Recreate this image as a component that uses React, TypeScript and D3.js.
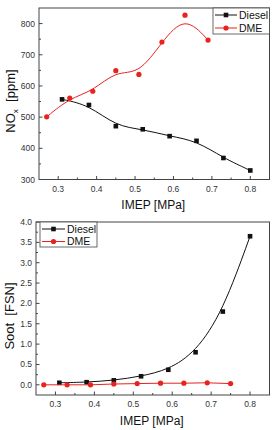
import React from 'react';
import * as d3 from 'd3';

const noxDieselX = [0.31, 0.38, 0.45, 0.52, 0.59, 0.66, 0.73, 0.8];
const noxDieselY = [557, 539, 471, 461, 439, 424, 369, 329];
const noxDmeX = [0.27, 0.33, 0.39, 0.45, 0.51, 0.57, 0.63, 0.69];
const noxDmeY = [501, 561, 583, 649, 637, 741, 827, 747];

const sootDieselX = [0.31, 0.38, 0.45, 0.52, 0.59, 0.66, 0.73, 0.8];
const sootDieselY = [0.05, 0.065, 0.11, 0.21, 0.37, 0.8, 1.8, 3.65];
const sootDmeX = [0.27, 0.33, 0.39, 0.45, 0.51, 0.57, 0.63, 0.69, 0.75];
const sootDmeY = [0.0, 0.0, 0.0, 0.02, 0.03, 0.04, 0.04, 0.05, 0.03];

const xTicks = [0.3, 0.4, 0.5, 0.6, 0.7, 0.8];
const xMinor = [0.25, 0.35, 0.45, 0.55, 0.65, 0.75, 0.85];
const noxTicks = [300, 400, 500, 600, 700, 800];
const noxMinor = [350, 450, 550, 650, 750, 850];
const sootTicks = [0, 0.5, 1.0, 1.5, 2.0, 2.5, 3.0, 3.5, 4.0];
const sootMinor = [-0.25, 0.25, 0.75, 1.25, 1.75, 2.25, 2.75, 3.25, 3.75];

const seriesNames = ['Diesel', 'DME'];
const RED = '#e8231f';
const BLACK = '#111';
const FRAME = '#444';
const FONT = 'Liberation Sans, Arial, Helvetica, sans-serif';

type Series = { xs: number[]; ys: number[]; color: string; marker: 'square' | 'circle'; curve: d3.CurveFactory };

type PanelProps = {
  left: number; right: number; top: number; bottom: number;
  xDomain: [number, number]; yDomain: [number, number];
  yTicks: number[]; yMinor: number[]; yFmt: (v: number) => string;
  series: Series[];
  legend: { x0: number; y0: number; x1: number; y1: number; lineX0: number; lineX1: number; rowY: number[] };
  yLabel: React.ReactNode; yLabelX: number; yLabelY: number;
  xLabelY: number; tickLabelY: number;
};

function Marker({ x, y, type, color }: { x: number; y: number; type: string; color: string }) {
  if (type === 'square') return <rect x={x - 2.3} y={y - 2.3} width={4.6} height={4.6} fill={color} />;
  return <circle cx={x} cy={y} r={2.6} fill={color} />;
}

function Panel(p: PanelProps) {
  const x = d3.scaleLinear().domain(p.xDomain).range([p.left, p.right]);
  const y = d3.scaleLinear().domain(p.yDomain).range([p.bottom, p.top]);
  return (
    <g>
      {p.series.map((s, i) => {
        const pts: [number, number][] = s.xs.map((v, j) => [v, s.ys[j]]);
        const line = d3.line<[number, number]>().x(d => x(d[0])).y(d => y(d[1])).curve(s.curve);
        return (
          <g key={i}>
            <path d={line(pts) || ''} fill="none" stroke={s.color} strokeWidth={1} />
            {pts.map((d, j) => <Marker key={j} x={x(d[0])} y={y(d[1])} type={s.marker} color={s.color} />)}
          </g>
        );
      })}
      <rect x={p.left} y={p.top} width={p.right - p.left} height={p.bottom - p.top} fill="none" stroke={FRAME} strokeWidth={1} />
      {xTicks.map((t, i) => (
        <g key={'xt' + i}>
          <line x1={x(t)} x2={x(t)} y1={p.bottom} y2={p.bottom - 3.5} stroke={FRAME} />
          <text x={x(t)} y={p.tickLabelY} textAnchor="middle" fontSize={8.5} fill="#333" fontFamily={FONT}>{t.toFixed(1)}</text>
        </g>
      ))}
      {xMinor.filter(t => x(t) > p.left + 1 && x(t) < p.right - 1).map((t, i) => (
        <line key={'xm' + i} x1={x(t)} x2={x(t)} y1={p.bottom} y2={p.bottom - 2} stroke={FRAME} />
      ))}
      {p.yTicks.map((t, i) => (
        <g key={'yt' + i}>
          <line x1={p.left} x2={p.left + 3.5} y1={y(t)} y2={y(t)} stroke={FRAME} />
          <text x={p.left - 4} y={y(t) + 3} textAnchor="end" fontSize={8.5} fill="#333" fontFamily={FONT}>{p.yFmt(t)}</text>
        </g>
      ))}
      {p.yMinor.filter(t => y(t) > p.top + 1 && y(t) < p.bottom - 1).map((t, i) => (
        <line key={'ym' + i} x1={p.left} x2={p.left + 2} y1={y(t)} y2={y(t)} stroke={FRAME} />
      ))}
      <rect x={p.legend.x0} y={p.legend.y0} width={p.legend.x1 - p.legend.x0} height={p.legend.y1 - p.legend.y0} fill="#fff" stroke={FRAME} strokeWidth={0.8} />
      {p.series.map((s, i) => {
        const ry = p.legend.rowY[i];
        const mx = (p.legend.lineX0 + p.legend.lineX1) / 2;
        return (
          <g key={'lg' + i}>
            <line x1={p.legend.lineX0} x2={p.legend.lineX1} y1={ry} y2={ry} stroke={s.color} strokeWidth={1} />
            <Marker x={mx} y={ry} type={s.marker} color={s.color} />
            <text x={p.legend.lineX1 + 2} y={ry + 3.7} fontSize={10.5} fill="#111" fontFamily={FONT}>{seriesNames[i]}</text>
          </g>
        );
      })}
      <text x={(p.left + p.right) / 2 - 1} y={p.xLabelY} textAnchor="middle" fontSize={12} fill="#111" fontFamily={FONT}>IMEP [MPa]</text>
      <text transform={`translate(${p.yLabelX},${p.yLabelY}) rotate(-90)`} textAnchor="middle" fontSize={13} fill="#111" fontFamily={FONT}>{p.yLabel}</text>
    </g>
  );
}

export default function App() {
  return (
    <svg width={275} height={430} style={{ position: 'absolute', left: 0, top: 0, background: '#fff' }}>
      <rect x={0} y={0} width={275} height={430} fill="#fff" />
      <Panel
        left={39} right={269.5} top={8} bottom={179.5}
        xDomain={[0.25, 0.85]} yDomain={[300, 850]}
        yTicks={noxTicks} yMinor={noxMinor} yFmt={v => String(v)}
        series={[
          { xs: noxDieselX, ys: noxDieselY, color: BLACK, marker: 'square', curve: d3.curveBasis },
          { xs: noxDmeX, ys: noxDmeY, color: RED, marker: 'circle', curve: d3.curveBasis },
        ]}
        legend={{ x0: 213, y0: 8, x1: 269.5, y1: 34, lineX0: 215, lineX1: 237, rowY: [15, 28] }}
        yLabel={<>NO<tspan fontSize={8} dy={3}>x</tspan><tspan dy={-3}>{'\u00a0 [ppm]'}</tspan></>}
        yLabelX={14.5} yLabelY={101}
        xLabelY={209} tickLabelY={191.5}
      />
      <Panel
        left={36} right={269.5} top={222} bottom={395}
        xDomain={[0.25, 0.85]} yDomain={[-0.25, 4.0]}
        yTicks={sootTicks} yMinor={sootMinor} yFmt={v => v.toFixed(1)}
        series={[
          { xs: sootDieselX, ys: sootDieselY, color: BLACK, marker: 'square', curve: d3.curveBasis },
          { xs: sootDmeX, ys: sootDmeY, color: RED, marker: 'circle', curve: d3.curveLinear },
        ]}
        legend={{ x0: 40, y0: 222, x1: 97, y1: 247, lineX0: 42, lineX1: 65, rowY: [229, 241.5] }}
        yLabel={'Soot\u00a0 [FSN]'}
        yLabelX={13.5} yLabelY={316}
        xLabelY={424.5} tickLabelY={406.5}
      />
    </svg>
  );
}
